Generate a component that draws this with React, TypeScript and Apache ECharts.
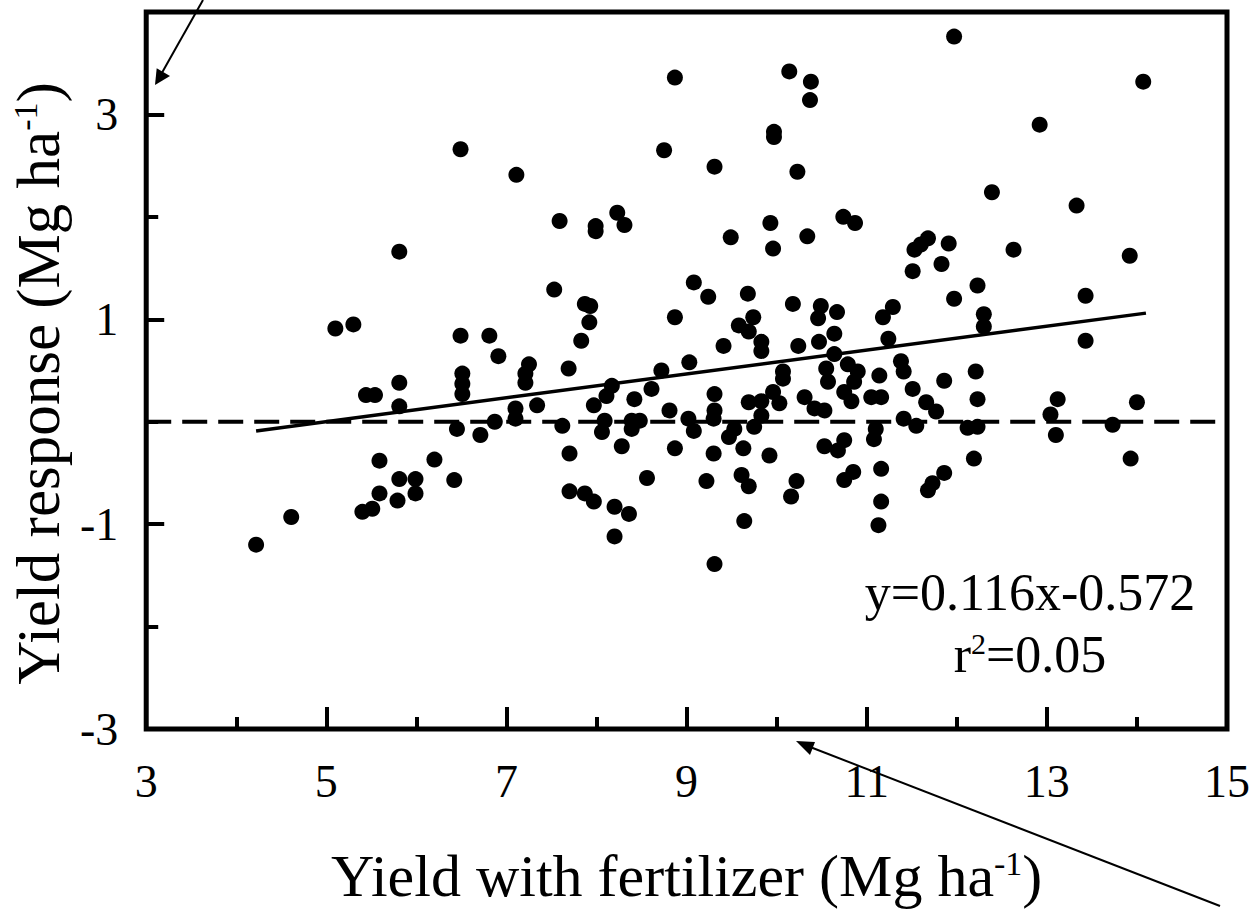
import React, { useEffect, useRef } from "react";
import * as echarts from "echarts";

// Tick labels
const xLabelValues = [3, 5, 7, 9, 11, 13, 15];
const xMajorTicks = [5, 7, 9, 11, 13];
const yLabelValues = [-3, -1, 1, 3];

// Scatter points: [yield with fertilizer, yield response]
const pointsLow = [
  [4.22, -1.2], [4.61, -0.93], [5.1, 0.91], [5.3, 0.95], [5.44, 0.26], [5.54, 0.26], [5.81, 0.38], [5.81, 0.15],
  [5.81, 1.66], [5.59, -0.38], [5.81, -0.56], [5.99, -0.56], [5.59, -0.7], [5.79, -0.77], [5.99, -0.7], [5.4, -0.88],
  [5.51, -0.85], [6.2, -0.37], [6.42, -0.57], [6.49, 2.66], [6.49, 0.84], [6.81, 0.84], [6.91, 0.64], [6.51, 0.47],
  [6.51, 0.37], [6.51, 0.27], [6.45, -0.07], [6.71, -0.13], [6.87, 0.0], [7.1, 0.03], [7.1, 0.13], [7.25, 0.56],
  [7.21, 0.47], [7.21, 0.38], [7.34, 0.16], [7.11, 2.41], [7.53, 1.29], [7.59, 1.96], [7.69, 0.52], [7.83, 0.79],
  [7.87, 1.15], [7.93, 1.13], [7.92, 0.97], [7.99, 1.91], [7.99, 1.86], [7.62, -0.04], [7.7, -0.31], [7.7, -0.68],
  [7.87, -0.7], [7.97, -0.78], [7.97, 0.16],
];
const pointsMid = [
  [8.23, 2.04], [8.31, 1.92], [8.2, -0.83], [8.36, -0.9], [8.2, -1.12], [8.09, 0.01], [8.06, -0.1], [8.11, 0.25],
  [8.17, 0.35], [8.28, -0.24], [8.39, 0.01], [8.48, 0.01], [8.39, -0.07], [8.42, 0.22], [8.56, -0.55], [8.61, 0.32],
  [8.72, 0.5], [8.75, 2.65], [8.81, 0.11], [8.87, 3.36], [8.87, 1.02], [8.87, -0.26], [9.03, 0.58], [9.02, 0.03],
  [9.08, -0.09], [9.08, 1.36], [9.22, -0.58], [9.24, 1.22], [9.31, 2.49], [9.31, 0.27], [9.31, 0.11], [9.3, 0.03],
  [9.3, -0.31], [9.31, -1.39], [9.41, 0.74], [9.47, -0.15], [9.53, -0.07], [9.49, 1.8], [9.58, 0.94], [9.61, -0.52],
  [9.63, -0.26], [9.64, -0.97], [9.68, 1.25], [9.69, 0.88], [9.69, 0.19], [9.69, -0.63], [9.74, 1.02], [9.75, -0.05],
  [9.83, 0.78], [9.83, 0.69], [9.83, 0.2], [9.83, 0.06], [9.92, -0.33], [9.93, 1.94], [9.96, 1.69], [9.96, 0.29],
  [9.97, 2.83], [9.97, 2.78], [10.03, 0.18], [10.07, 0.49], [10.07, 0.42], [10.14, 3.42], [10.16, -0.73], [10.18, 1.15],
  [10.22, -0.58], [10.23, 2.44], [10.24, 0.74], [10.31, 0.24], [10.34, 1.81], [10.37, 3.14], [10.38, 3.32], [10.42, 0.13],
  [10.46, 1.01], [10.47, 0.78], [10.49, 1.13],
];
const pointsHigh = [
  [10.53, 0.11], [10.53, -0.24], [10.55, 0.52], [10.57, 0.39], [10.64, 0.86], [10.64, 0.66], [10.67, 1.07], [10.68, -0.28],
  [10.74, 2.0], [10.75, 0.29], [10.75, -0.18], [10.75, -0.57], [10.79, 0.56], [10.83, 0.2], [10.85, -0.49], [10.86, 0.39],
  [10.87, 1.94], [10.9, 0.49], [11.05, 0.24], [11.08, -0.17], [11.1, -0.07], [11.13, -1.01], [11.14, 0.45], [11.16, 0.24],
  [11.16, -0.46], [11.16, -0.78], [11.18, 1.02], [11.24, 0.81], [11.29, 1.12], [11.38, 0.59], [11.41, 0.49], [11.41, 0.03],
  [11.51, 0.32], [11.51, 1.47], [11.53, 1.68], [11.55, -0.04], [11.6, 1.73], [11.66, 0.19], [11.68, 1.79], [11.68, -0.67],
  [11.73, -0.6], [11.77, 0.1], [11.83, 1.54], [11.86, 0.4], [11.86, -0.5], [11.91, 1.74], [11.97, 3.76], [11.97, 1.2],
  [12.12, -0.06], [12.19, -0.36], [12.21, 0.49], [12.23, 1.33], [12.23, 0.22], [12.23, -0.05], [12.3, 1.05], [12.3, 0.93],
  [12.39, 2.24], [12.63, 1.68], [12.92, 2.9], [13.04, 0.07], [13.1, -0.13], [13.12, 0.22], [13.33, 2.11], [13.43, 1.23],
  [13.43, 0.79], [13.73, -0.03], [13.92, 1.62], [13.93, -0.36], [14.0, 0.19], [14.07, 3.32],
];

// Regression line endpoints and the zero reference line
const fitLine = [[4.22, -0.09], [14.1, 1.06]];
const zeroLine = [[3, 0], [15, 0]];

const equationText = "y=0.116x-0.572";
const r2Text = "r{sup|2}=0.05";

const FONT = '"Liberation Serif", "Times New Roman", serif';

export default function App() {
  const ref = useRef<HTMLDivElement>(null);

  useEffect(() => {
    if (!ref.current) return;
    const chart = echarts.init(ref.current, null, { renderer: "svg" });
    const tickStyle = { color: "#000", width: 4 };
    const labelStyle = { color: "#000", fontSize: 46, fontFamily: FONT };
    const nameStyle = {
      color: "#000",
      fontSize: 60,
      fontFamily: FONT,
      rich: { sup: { fontSize: 34, fontFamily: FONT, color: "#000", verticalAlign: "top" } },
    };
    chart.setOption({
      animation: false,
      backgroundColor: "#fff",
      grid: {
        left: 143, top: 12, width: 1084, height: 718,
        show: true, borderColor: "#000", borderWidth: 5, backgroundColor: "transparent",
        containLabel: false,
      },
      xAxis: [
        {
          type: "value", min: 3, max: 15, interval: 1, position: "bottom",
          axisLine: { show: false, onZero: false }, splitLine: { show: false },
          axisTick: { show: true, inside: true, length: 22, lineStyle: tickStyle, customValues: xMajorTicks },
          axisLabel: { show: true, customValues: xLabelValues, margin: 29, ...labelStyle },
          name: "Yield with fertilizer (Mg ha{sup|-1})",
          nameLocation: "middle", nameGap: 117, nameTextStyle: nameStyle,
        },
        {
          type: "value", min: 3, max: 15, interval: 1, position: "bottom",
          axisLine: { show: false, onZero: false }, splitLine: { show: false },
          axisTick: { show: true, inside: true, length: 12, lineStyle: tickStyle },
          axisLabel: { show: false },
        },
      ],
      yAxis: [
        {
          type: "value", min: -3, max: 4, interval: 1, position: "left",
          axisLine: { show: false, onZero: false }, splitLine: { show: false },
          axisTick: { show: true, inside: true, length: 18, lineStyle: tickStyle, customValues: yLabelValues },
          axisLabel: { show: true, customValues: yLabelValues, margin: 28, ...labelStyle },
          name: "Yield response (Mg ha{sup|-1})",
          nameLocation: "middle", nameGap: 55,
          nameTextStyle: { ...nameStyle, fontSize: 61, padding: [0, 26, 0, 0] },
        },
        {
          type: "value", min: -3, max: 4, interval: 1, position: "left",
          axisLine: { show: false, onZero: false }, splitLine: { show: false },
          axisTick: { show: true, inside: true, length: 12, lineStyle: tickStyle },
          axisLabel: { show: false },
        },
      ],
      series: [
        {
          type: "line", data: zeroLine, showSymbol: false, symbol: "none", silent: true,
          lineStyle: { color: "#000", width: 4, type: [25, 11] }, z: 2,
        },
        {
          type: "line", data: fitLine, showSymbol: false, symbol: "none", silent: true,
          lineStyle: { color: "#000", width: 3.5 }, z: 3,
        },
        {
          type: "scatter", data: [...pointsLow, ...pointsMid, ...pointsHigh],
          symbol: "circle", symbolSize: 16, itemStyle: { color: "#000", opacity: 1 }, z: 4,
        },
      ],
      graphic: [
        {
          type: "text", x: 1030, y: 592,
          style: { text: equationText, fontSize: 52, fontFamily: FONT, fill: "#000", align: "center", verticalAlign: "middle" },
        },
        {
          type: "text", x: 1030, y: 654,
          style: {
            text: r2Text, fontSize: 52, fontFamily: FONT, fill: "#000", align: "center", verticalAlign: "middle",
            rich: { sup: { fontSize: 30, fontFamily: FONT, fill: "#000", verticalAlign: "top" } },
          },
        },
        { type: "line", shape: { x1: 203, y1: 0, x2: 159, y2: 78 }, style: { stroke: "#000", lineWidth: 2 } },
        { type: "polygon", shape: { points: [[155, 85], [156.7, 68.3], [170, 76]] }, style: { fill: "#000" } },
        { type: "line", shape: { x1: 1220, y1: 906, x2: 805, y2: 745 }, style: { stroke: "#000", lineWidth: 2 } },
        { type: "polygon", shape: { points: [[796, 741], [815, 742], [810, 755]] }, style: { fill: "#000" } },
      ],
    });
    return () => chart.dispose();
  }, []);

  return (
    <div
      ref={ref}
      style={{ position: "fixed", left: 0, top: 0, width: 1253, height: 911, background: "#fff" }}
    />
  );
}
